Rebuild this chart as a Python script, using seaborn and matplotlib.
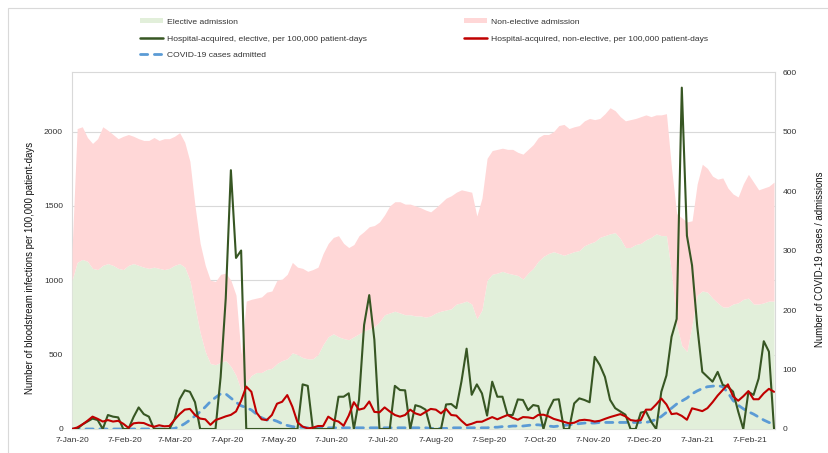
import numpy as np
import pandas as pd
import matplotlib
matplotlib.use("Agg")
import matplotlib.pyplot as plt
import matplotlib.dates as mdates
import matplotlib.transforms as mtransforms
import seaborn as sns
from matplotlib.patches import Patch, Rectangle
from matplotlib.lines import Line2D

# 3-day sampling, 7 Jan 2020 - 21 Feb 2021
dates = pd.date_range("2020-01-07", periods=138, freq="3D")

# admissions (right axis)
elective = [250, 280, 285, 282, 270, 268, 275, 278, 275, 270,
            268, 275, 278, 275, 272, 270, 272, 270, 268, 270,
            275, 278, 272, 250, 205, 162, 130, 110, 108, 112,
            115, 105, 90, 65, 78, 90, 95, 95, 100, 102,
            110, 115, 118, 128, 125, 120, 118, 118, 125, 142,
            155, 160, 155, 152, 150, 155, 160, 165, 168, 172,
            180, 192, 195, 198, 195, 192, 192, 190, 190, 188,
            190, 195, 198, 200, 202, 210, 212, 215, 210, 185,
            200, 250, 260, 262, 265, 262, 260, 258, 252, 262,
            270, 282, 290, 295, 298, 295, 292, 295, 298, 300,
            308, 312, 315, 322, 325, 328, 330, 320, 305, 305,
            310, 312, 318, 322, 328, 325, 325, 262, 175, 140,
            130, 175, 225, 232, 230, 220, 212, 205, 205, 210,
            212, 218, 220, 210, 210, 212, 215, 215]
non_elective = [50, 225, 223, 208, 210, 220, 233, 224, 220, 218,
                224, 220, 214, 213, 213, 215, 218, 215, 220, 218,
                217, 220, 210, 200, 170, 150, 145, 140, 140, 148,
                147, 145, 135, 60, 137, 128, 125, 127, 130, 130,
                140, 137, 142, 152, 147, 150, 147, 150, 147, 153,
                157, 162, 170, 160, 155, 155, 165, 167, 172, 170,
                168, 168, 180, 184, 187, 186, 186, 185, 182, 180,
                175, 177, 182, 188, 190, 188, 190, 185, 188, 173,
                188, 205, 208, 208, 207, 208, 210, 207, 210, 208,
                208, 208, 205, 200, 202, 215, 220, 210, 210, 210,
                210, 210, 205, 200, 205, 212, 205, 205, 213, 215,
                212, 213, 210, 203, 200, 203, 205, 176, 187, 215,
                218, 175, 187, 213, 208, 205, 208, 217, 200, 185,
                178, 194, 208, 205, 192, 193, 193, 200]
covid = [0, 0, 0, 0, 0, 0, 0, 0, 0, 0,
         0, 0, 0, 0, 0, 0, 0, 0, 0, 0,
         1, 4, 9, 15, 22, 29, 37, 46, 53, 59,
         59, 52, 45, 39, 36, 32, 25, 19, 15, 16,
         13, 9, 6, 4, 3, 3, 2, 2, 2, 2,
         2, 2, 2, 2, 2, 2, 2, 2, 2, 2,
         2, 2, 2, 2, 2, 2, 2, 2, 2, 2,
         1, 1, 1, 1, 2, 2, 2, 2, 2, 2,
         2, 2, 3, 3, 4, 4, 5, 5, 5, 6,
         7, 7, 6, 5, 4, 5, 6, 7, 8, 9,
         10, 10, 10, 11, 11, 11, 11, 11, 11, 11,
         11, 11, 11, 13, 16, 21, 28, 35, 42, 47,
         52, 59, 64, 68, 71, 72, 73, 71, 61, 48,
         40, 34, 29, 25, 20, 15, 11, 8]

# hospital-acquired BSI per 100,000 patient-days (left axis)
ha_elective = [0, 0, 30, 50, 70, 60, 0, 94, 83, 78,
               0, 0, 80, 145, 100, 83, 0, 0, 0, 0,
               65, 200, 260, 250, 180, 0, 0, 0, 0, 350,
               880, 1740, 1150, 1200, 0, 0, 0, 0, 0, 0,
               0, 0, 0, 0, 0, 300, 290, 0, 0, 0,
               0, 0, 217, 217, 240, 0, 195, 700, 900, 600,
               0, 0, 0, 290, 262, 260, 0, 160, 150, 130,
               0, 0, 0, 165, 168, 140, 320, 540, 230, 300,
               239, 90, 318, 217, 217, 94, 94, 199, 195, 127,
               161, 154, 0, 127, 196, 200, 0, 0, 172, 206,
               195, 180, 485, 430, 350, 196, 140, 118, 96, 0,
               0, 110, 118, 50, 0, 250, 360, 620, 740, 2295,
               1300, 1100, 695, 384, 351, 318, 384, 296, 284, 251,
               118, 0, 250, 229, 340, 590, 520, 0]
ha_non_elective = [0, 10, 30, 55, 83, 68, 50, 60, 50, 55,
                   35, 8, 38, 42, 40, 25, 15, 25, 18, 20,
                   62, 100, 130, 135, 94, 70, 65, 28, 60, 72,
                   85, 95, 118, 190, 285, 250, 110, 65, 60, 94,
                   170, 183, 228, 150, 45, 16, 4, 9, 20, 20,
                   83, 60, 50, 22, 90, 180, 130, 139, 185, 115,
                   112, 145, 118, 94, 83, 94, 130, 105, 94, 115,
                   135, 130, 105, 135, 94, 90, 55, 25, 35, 48,
                   49, 65, 80, 65, 80, 94, 75, 62, 80, 78,
                   72, 95, 96, 85, 68, 58, 48, 38, 42, 58,
                   62, 58, 50, 55, 68, 80, 90, 100, 85, 60,
                   55, 60, 130, 130, 165, 205, 165, 100, 105, 88,
                   62, 139, 130, 120, 140, 180, 225, 262, 300, 220,
                   190, 220, 255, 200, 200, 240, 270, 250]

labels = ["Elective admission",
          "Hospital-acquired, elective, per 100,000 patient-days",
          "COVID-19 cases admitted",
          "Non-elective admission",
          "Hospital-acquired, non-elective, per 100,000 patient-days"]

c_el_area = "#E2EFDA"
c_ne_area = "#FFD7D7"
c_el_line = "#375623"
c_ne_line = "#C00000"
c_covid = "#5B9BD5"
c_grid = "#D9D9D9"
c_text = "#333333"

sns.set_style("white")
plt.rcParams["font.family"] = ["Liberation Sans", "DejaVu Sans"]

fig = plt.figure(figsize=(8.29, 4.53), dpi=100)
ax = fig.add_axes([0.0869, 0.053, 0.848, 0.788])
ax2 = ax.twinx()

# areas + covid on the right axis, kept behind the BSI lines
ax2.stackplot(dates, elective, non_elective, colors=[c_el_area, c_ne_area],
              linewidth=0, zorder=1)
sns.lineplot(x=dates, y=covid, ax=ax2, color=c_covid, lw=2.0, zorder=3)
ax2.lines[-1].set_dashes([2.6, 2.4])
ax2.lines[-1].set_dash_capstyle("round")

ax.set_zorder(ax2.get_zorder() + 1)
ax.patch.set_visible(False)

sns.lineplot(x=dates, y=ha_elective, ax=ax, color=c_el_line, lw=1.5)
sns.lineplot(x=dates, y=ha_non_elective, ax=ax, color=c_ne_line, lw=1.5)

ax.set_ylim(0, 2400)
ax2.set_ylim(0, 600)
ax.set_xlim(dates[0], pd.Timestamp("2021-02-21 14:00"))
ax.set_yticks([0, 500, 1000, 1500, 2000])
ax2.set_yticks(range(0, 601, 100))

# gridlines at the left ticks, drawn under the areas
trans = mtransforms.blended_transform_factory(ax2.transAxes, ax.transData)
for v in [500, 1000, 1500, 2000]:
    ax2.add_line(Line2D([0, 1], [v, v], transform=trans, color=c_grid,
                        lw=0.8, zorder=0.5))

ax.xaxis.set_major_locator(mdates.MonthLocator(bymonthday=7))
ax.xaxis.set_major_formatter(mdates.DateFormatter("%-d-%b-%y"))

for a in (ax, ax2):
    for s in a.spines.values():
        s.set_visible(False)
for s in ax2.spines.values():
    s.set_visible(True)
    s.set_color(c_grid)
    s.set_linewidth(0.8)
    s.set_zorder(0.5)

ax.tick_params(axis="x", labelsize=6.1, colors=c_text, length=3, width=0.6,
               color=c_grid, pad=3)
ax.tick_params(axis="y", labelsize=6.1, colors=c_text, length=0, pad=6.5)
ax2.tick_params(axis="y", labelsize=6.1, colors=c_text, length=0, pad=5.5)

ax.set_xlabel("")
ax.set_ylabel("Number of bloodstream infections per 100,000 patient-days",
              fontsize=6.9, color="#111111")
ax.yaxis.set_label_coords(-0.052, 0.451)
ax2.set_ylabel("Number of COVID-19 cases / admissions", fontsize=6.9,
               color="#111111")
ax2.yaxis.set_label_coords(1.0575, 0.475)

handles = [Patch(facecolor=c_el_area, edgecolor="none"),
           Line2D([], [], color=c_el_line, lw=1.8),
           Line2D([], [], color=c_covid, lw=2.0, dashes=[2.6, 2.4],
                  dash_capstyle="round"),
           Patch(facecolor=c_ne_area, edgecolor="none"),
           Line2D([], [], color=c_ne_line, lw=1.8)]
leg = fig.legend(handles, labels, ncol=2, loc="upper left",
                 bbox_to_anchor=(140 / 829, 1 - 18 / 453), frameon=False,
                 fontsize=6.1, handlelength=2.7, handleheight=0.6,
                 handletextpad=0.45, columnspacing=11.5, labelspacing=1.08,
                 borderpad=0, borderaxespad=0)
for t in leg.get_texts():
    t.set_color(c_text)

# light outer chart border
fig.patches.append(Rectangle((8 / 829, -0.05), 1.2, 1 + 0.05 - 8 / 453,
                             transform=fig.transFigure, fill=False,
                             edgecolor=c_grid, lw=0.8))

fig.savefig("out.png", dpi=100)
